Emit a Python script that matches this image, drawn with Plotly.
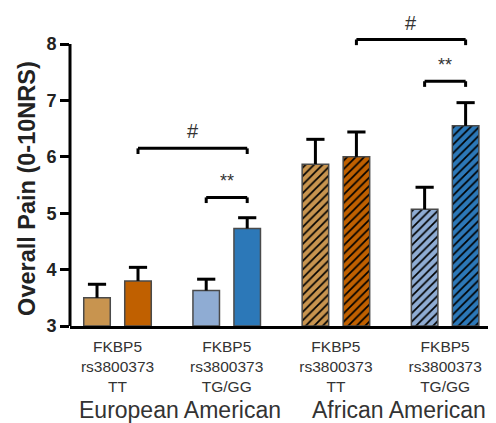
import plotly.graph_objects as go

# ---- data ----
group_labels = ["FKBP5<br>rs3800373<br>TT", "FKBP5<br>rs3800373<br>TG/GG",
                "FKBP5<br>rs3800373<br>TT", "FKBP5<br>rs3800373<br>TG/GG"]
ancestry_labels = ["European American", "African American"]
left_values = [3.50, 3.63, 5.87, 5.07]
left_errors = [0.24, 0.20, 0.44, 0.39]
right_values = [3.80, 4.73, 6.00, 6.55]
right_errors = [0.24, 0.19, 0.44, 0.41]
left_colors = ["#C8944F", "#8FACD3", "#C8944F", "#8FACD3"]
right_colors = ["#C06000", "#2C78B8", "#C06000", "#2C78B8"]
hatch = ["", "", "/", "/"]
y_ticks = [3, 4, 5, 6, 7, 8]

# significance brackets: (from bar (group, side), to bar (group, side), height, label)
brackets = [
    ((0, 1), (1, 1), 6.15, "#"),
    ((1, -1), (1, 1), 5.28, "**"),
    ((2, 1), (3, 1), 8.08, "#"),
    ((3, -1), (3, 1), 7.34, "**"),
]

# ---- geometry ----
off = 0.1877
bw = 0.243
pos = list(range(len(group_labels)))
font_family = "Liberation Sans, Arial, Helvetica, sans-serif"

fig = go.Figure()
cap_x, cap_y = [], []
for vals, errs, cols, sign in [(left_values, left_errors, left_colors, -1),
                               (right_values, right_errors, right_colors, 1)]:
    for p, v, e, c, h in zip(pos, vals, errs, cols, hatch):
        fig.add_trace(go.Bar(
            x=[p + sign * off], y=[v - 3], base=3, width=bw,
            marker=dict(color=c, line=dict(color="#4a4a4a", width=1.5),
                        pattern=dict(shape=h, fillmode="replace", bgcolor=c,
                                     fgcolor="#000000", fgopacity=1,
                                     size=6, solidity=0.28)),
            error_y=dict(type="data", array=[e], arrayminus=[0],
                         symmetric=False, color="black", thickness=3, width=0),
            showlegend=False, hoverinfo="skip",
        ))
        cap_x.append(p + sign * off)
        cap_y.append(v + e)

# caps of the upper error bars (no lower cap, as in the original)
fig.add_trace(go.Scatter(
    x=cap_x, y=cap_y, mode="markers", showlegend=False, hoverinfo="skip",
    marker=dict(symbol="line-ew", size=13, line=dict(color="black", width=3)),
))

shapes = []
annotations = []
tick_drop = 0.1
for (ga, sa), (gb, sb), h, lab in brackets:
    x0 = ga + sa * off
    x1 = gb + sb * off
    for seg in [(x0, h - tick_drop, x0, h), (x0, h, x1, h), (x1, h, x1, h - tick_drop)]:
        shapes.append(dict(type="line", xref="x", yref="y", x0=seg[0], y0=seg[1],
                           x1=seg[2], y1=seg[3], line=dict(color="black", width=3)))
    annotations.append(dict(x=(x0 + x1) / 2, y=h, xref="x", yref="y", text=lab,
                            showarrow=False, yanchor="bottom", yshift=4,
                            font=dict(family=font_family,
                                      size=20 if lab == "#" else 18,
                                      color="#333333")))

# y axis line only from 3 to 8
shapes.append(dict(type="line", xref="paper", yref="y", x0=0, x1=0, y0=3, y1=8,
                   line=dict(color="black", width=3)))

# ancestry labels
for xa, lab in zip([0.57, 2.58], ancestry_labels):
    annotations.append(dict(x=xa, y=-0.266, xref="x", yref="paper", text=lab,
                            showarrow=False, yanchor="middle",
                            font=dict(family=font_family, size=23, color="#333333")))

# y title
annotations.append(dict(x=-0.1024, y=0.437, xref="paper", yref="paper",
                        text="<b>Overall Pain (0-10NRS)</b>", textangle=-90,
                        showarrow=False, xanchor="center", yanchor="middle",
                        font=dict(family=font_family, size=23.5, color="#222222")))

# page body adds an 8px offset, so the figure is sized to fill the window
fig.update_layout(
    width=488, height=415,
    margin=dict(l=62, r=6, t=2, b=97),
    plot_bgcolor="white", paper_bgcolor="white",
    barmode="overlay",
    shapes=shapes, annotations=annotations,
    xaxis=dict(range=[-0.435, 3.411], tickvals=pos, ticktext=group_labels,
               showgrid=False, zeroline=False, showline=True, linecolor="black",
               linewidth=3, ticks="", ticklabelstandoff=4,
               tickfont=dict(family=font_family, size=15.5, color="#333333")),
    yaxis=dict(range=[3, 8.603], tickvals=y_ticks, showgrid=False, zeroline=False,
               showline=False, ticks="outside", ticklen=9, tickwidth=2.5,
               tickcolor="black",
               tickfont=dict(family=font_family, size=18, color="#222222", weight="bold")),
)

fig.write_html("out.html")
